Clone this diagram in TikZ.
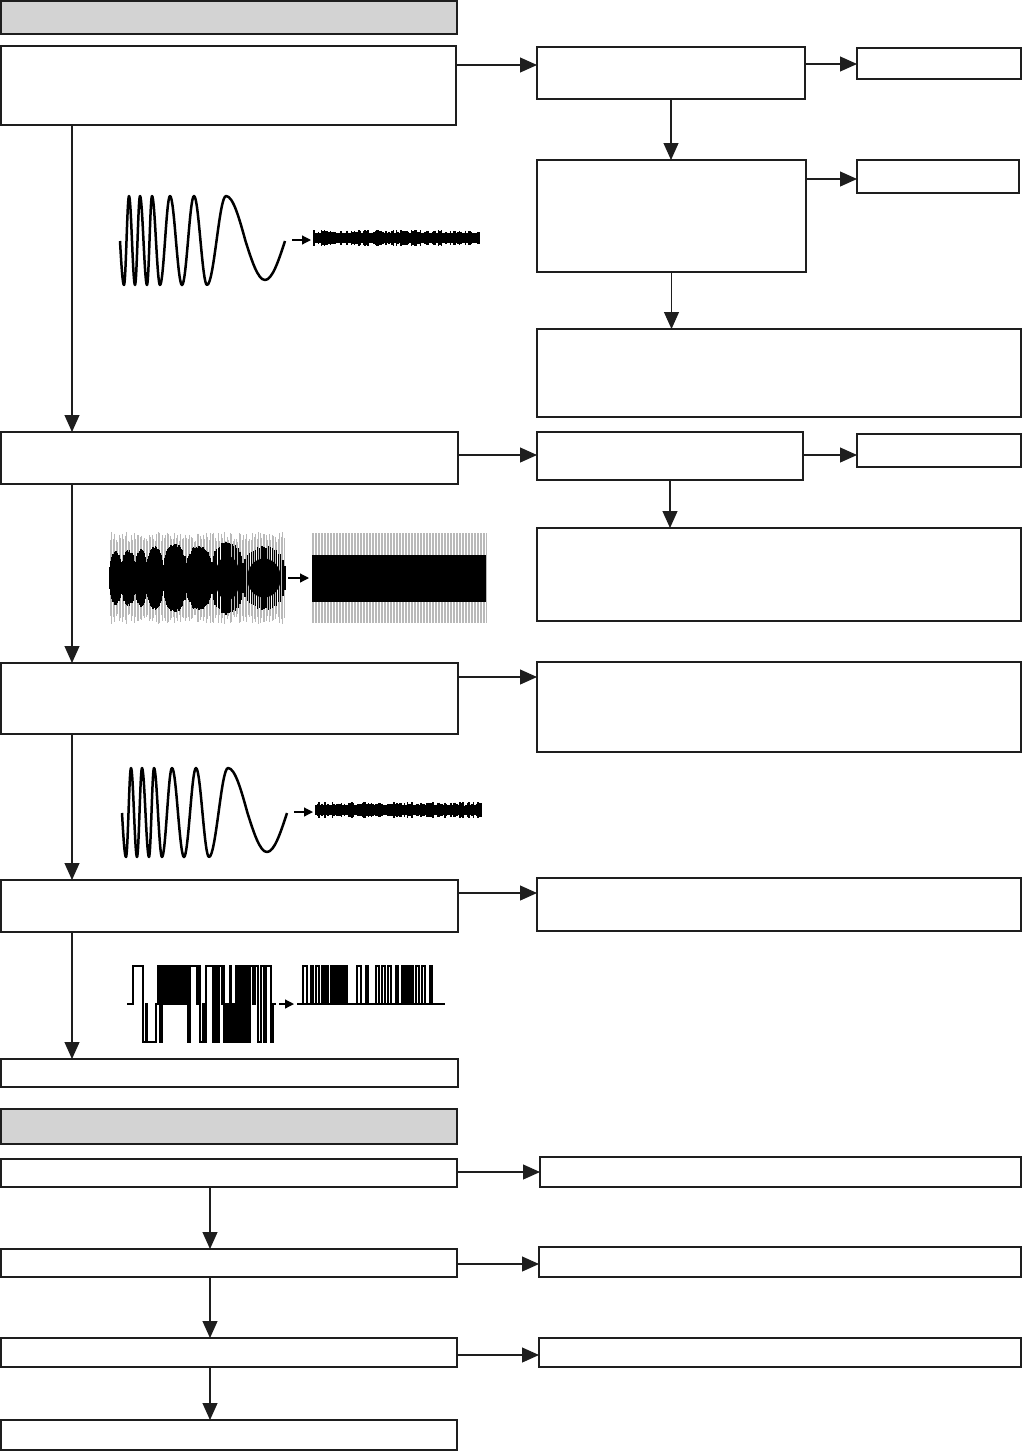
\documentclass[tikz,border=0pt]{standalone}
\usetikzlibrary{arrows.meta}
\definecolor{hdrgray}{RGB}{211,211,211}
\definecolor{ink}{RGB}{30,30,30}
\tikzset{
  blk/.style={draw=ink, line width=1.4pt, anchor=north west, inner sep=0pt, outer sep=0pt},
  hdr/.style={blk, fill=hdrgray},
  conn/.style={draw=ink, line width=1.1pt, -{Triangle[length=17pt,width=15pt]}},
  sarr/.style={line width=1.2pt, -{Triangle[length=9pt,width=9pt]}},
  wave/.style={line width=2.5pt, line join=round},
  pulse/.style={line width=1.1pt},
}
% chirp and its output
\newcommand\chirpsig{%
  \draw[wave] (120,241) \foreach \xe/\xm/\ye in {124/126.5/285, 129/132/196, 135/137.5/285,
    140/143.5/196, 147/149.5/285, 152/156/196, 160/165/285, 170/176/196, 182/188/285,
    194/200.5/196, 207/216.5/285, 226/245.5/196, 265/285/280} { sin (\xe,\ye) cos (\xm,241) };
  \draw[sarr] (292,240) -- (311,240);
  \fill (314,234) rectangle (480,242);
  \foreach \i in {0,...,110} {
    \pgfmathsetmacro\hh{4.5+3.5*rnd}
    \draw[line width=1.2pt] ({314+1.5*\i},{238-\hh}) -- ({314+1.5*\i},{238+\hh});
  }%
}
\begin{document}
\begin{tikzpicture}[x=1pt, y=-1pt]
\useasboundingbox (0,0) rectangle (1022,1451);
\pgfmathsetseed{7}

% first section
\node[hdr, minimum width=456pt, minimum height=33pt] (hdr1) at (1,1) {};
\node[blk, minimum width=455pt, minimum height=79pt] (b1) at (1,46) {};
\node[blk, minimum width=268pt, minimum height=52pt] (r1) at (537,47) {};
\node[blk, minimum width=164pt, minimum height=31pt] (r1a) at (857,48) {};
\node[blk, minimum width=269pt, minimum height=112pt] (r2) at (537,160) {};
\node[blk, minimum width=162pt, minimum height=33pt] (r2a) at (857,160) {};
\node[blk, minimum width=484pt, minimum height=88pt] (r3) at (537,329) {};
\node[blk, minimum width=457pt, minimum height=52pt] (b2) at (1,432) {};
\node[blk, minimum width=266pt, minimum height=48pt] (r4) at (537,432) {};
\node[blk, minimum width=164pt, minimum height=33pt] (r4a) at (857,434) {};
\node[blk, minimum width=484pt, minimum height=93pt] (r5) at (537,528) {};
\node[blk, minimum width=457pt, minimum height=71pt] (b3) at (1,663) {};
\node[blk, minimum width=484pt, minimum height=90pt] (r6) at (537,662) {};
\node[blk, minimum width=457pt, minimum height=52pt] (b4) at (1,880) {};
\node[blk, minimum width=484pt, minimum height=53pt] (r7) at (537,878) {};
\node[blk, minimum width=457pt, minimum height=28pt] (b5) at (1,1059) {};

\coordinate (sp) at (72,0);
\coordinate (ya) at (0,65);
\coordinate (yb) at (0,64);
\coordinate (yc) at (0,179);
\coordinate (yd) at (0,455);
\coordinate (ye) at (0,677);
\coordinate (yf) at (0,893);

\draw[conn] (b1.east |- ya) -- (r1.west |- ya);
\draw[conn] (r1.east |- yb) -- (r1a.west |- yb);
\draw[conn] (r1.south) -- (r2.north -| r1.south);
\draw[conn] (r2.east |- yc) -- (r2a.west |- yc);
\draw[conn] (r2.south) -- (r3.north -| r2.south);
\draw[conn] (b1.south -| sp) -- (b2.north -| sp);
\draw[conn] (b2.east |- yd) -- (r4.west |- yd);
\draw[conn] (r4.east |- yd) -- (r4a.west |- yd);
\draw[conn] (r4.south) -- (r5.north -| r4.south);
\draw[conn] (b2.south -| sp) -- (b3.north -| sp);
\draw[conn] (b3.east |- ye) -- (r6.west |- ye);
\draw[conn] (b3.south -| sp) -- (b4.north -| sp);
\draw[conn] (b4.east |- yf) -- (r7.west |- yf);
\draw[conn] (b4.south -| sp) -- (b5.north -| sp);

% signals
\chirpsig
\begin{scope}[shift={(2,572)}]
  \chirpsig
\end{scope}

% modulated signal
\foreach \i in {0,...,116} {
  \pgfmathsetmacro\hh{36+10*rnd}
  \draw[gray!55, line width=1pt] ({110+1.5*\i},{578-\hh}) -- ({110+1.5*\i},{578+\hh});
}
\foreach \cx/\wx/\hy in {116/6/24, 128.5/6.5/26, 141/6/26, 155/8/30, 174.5/11.5/32,
  199/13/30, 227.5/15.5/34, 264/21/30} {
  \foreach \k in {-10,...,10} {
    \pgfmathsetmacro\hh{\hy*sqrt(1-(\k/10.5)^2)^0.8+3*rnd}
    \draw[line width=1.3pt] ({\cx+\wx*\k/10},{578-\hh}) -- ({\cx+\wx*\k/10},{578+\hh});
  }
  \fill (\cx,578) ellipse ({0.8*\wx} and {0.65*\hy});
}
\draw[sarr] (288,578) -- (309,578);
\foreach \i in {0,...,116}
  \draw[gray!55, line width=1pt] ({312+1.5*\i},533) -- ({312+1.5*\i},623);
\fill (312,555) rectangle (486,602);

% digital signal
\draw[pulse] (127,1004) \foreach \x/\y in {133/966, 143/1042, 146/1004, 147/1042, 156/1004,
  158/966, 160/1042, 162/966, 164/1004, 165/966, 167/1004, 168/966, 170/1004, 171/966,
  173/1004, 174/966, 176/1004, 177/966, 179/1004, 180/966, 182/1004, 183/966, 185/1004,
  186/966, 188/1042, 190/966, 197/1004, 199/966, 200/1042, 203/1004, 204/1042, 206/966,
  213/1042, 215/966, 217/1042, 219/966, 222/1004, 223/966, 224/1042, 226/1004, 227/1042,
  228/1004, 229/1042, 230/966, 231/1042, 233/1004, 234/1042, 236/966, 237/1042, 238/966,
  239/1042, 241/966, 242/1042, 244/966, 245/1042, 247/966, 248/1042, 250/966, 253/1004,
  255/966, 258/1042, 261/966, 264/1042, 266/966, 271/1042, 273/1004} { -| (\x,\y) }
  -- (276,1004);
\fill (227,1004) rectangle (249,1042);
\draw[sarr] (279,1004) -- (294,1004);
\draw[line width=2pt] (297,1004) -- (445,1004);
\foreach \a/\b in {303/307, 311/313, 316/319, 322/324, 326/328, 331/333, 335/347, 357/361,
  366/368, 376/379, 382/385, 388/391, 396/398, 402/404, 405/407, 408/410, 411/413, 416/419,
  422/425, 430/432}
  \draw[pulse] (\a,1004) |- (\b,966) -- (\b,1004);
\fill (335,966) rectangle (347,1004);

% second section
\node[hdr, minimum width=456pt, minimum height=35pt] (hdr2) at (1,1109) {};
\node[blk, minimum width=456pt, minimum height=28pt] (c1) at (1,1159) {};
\node[blk, minimum width=481pt, minimum height=30pt] (d1) at (540,1157) {};
\node[blk, minimum width=456pt, minimum height=28pt] (c2) at (1,1249) {};
\node[blk, minimum width=482pt, minimum height=30pt] (d2) at (539,1247) {};
\node[blk, minimum width=456pt, minimum height=29pt] (c3) at (1,1338) {};
\node[blk, minimum width=482pt, minimum height=29pt] (d3) at (539,1338) {};
\node[blk, minimum width=456pt, minimum height=30pt] (c4) at (1,1420) {};

\coordinate (sq) at (210,0);
\coordinate (yg) at (0,1172);
\coordinate (yh) at (0,1264);
\coordinate (yi) at (0,1355);

\draw[conn] (c1.east |- yg) -- (d1.west |- yg);
\draw[conn] (c2.east |- yh) -- (d2.west |- yh);
\draw[conn] (c3.east |- yi) -- (d3.west |- yi);
\draw[conn] (c1.south -| sq) -- (c2.north -| sq);
\draw[conn] (c2.south -| sq) -- (c3.north -| sq);
\draw[conn] (c3.south -| sq) -- (c4.north -| sq);
\end{tikzpicture}
\end{document}
